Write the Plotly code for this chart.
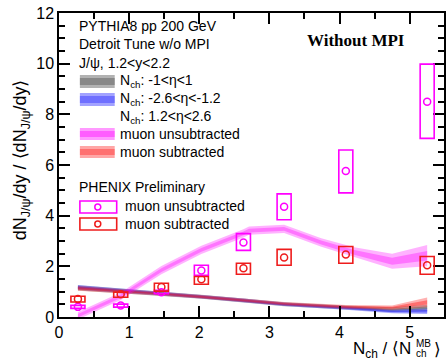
import plotly.graph_objects as go

# ---- data ----
x_data = [0.27, 0.88, 1.46, 2.03, 2.63, 3.21, 4.09, 5.25]
unsub_y = [0.40, 0.45, 0.98, 1.84, 2.94, 4.35, 5.76, 8.50]
unsub_lo = [0.34, 0.39, 0.92, 1.65, 2.63, 3.84, 4.90, 7.05]
unsub_hi = [0.46, 0.51, 1.05, 2.04, 3.29, 4.86, 6.59, 9.98]
sub_y = [0.71, 0.90, 1.18, 1.49, 1.92, 2.35, 2.47, 2.04]
sub_lo = [0.59, 0.78, 1.02, 1.29, 1.69, 2.04, 2.12, 1.69]
sub_hi = [0.82, 0.98, 1.33, 1.60, 2.12, 2.67, 2.78, 2.39]

x_mc = [0.27, 0.88, 1.46, 2.03, 2.63, 3.21, 4.09, 4.75, 5.25]
mc_mid = [1.15, 1.03, 0.92, 0.80, 0.65, 0.50, 0.37, 0.29, 0.36]
mc_mid_err = [0.10, 0.09, 0.09, 0.08, 0.08, 0.08, 0.08, 0.09, 0.12]
mc_back = [1.17, 1.05, 0.93, 0.80, 0.66, 0.50, 0.36, 0.22, 0.23]
mc_back_err = [0.09, 0.08, 0.08, 0.07, 0.07, 0.07, 0.07, 0.07, 0.11]
mc_fwd = [1.13, 1.02, 0.92, 0.80, 0.66, 0.52, 0.40, 0.37, 0.58]
mc_fwd_err = [0.09, 0.08, 0.08, 0.07, 0.07, 0.07, 0.07, 0.08, 0.19]

x_mu = [0.27, 0.88, 1.46, 2.03, 2.63, 2.71, 3.21, 3.74, 4.21, 4.75, 5.25]
mu_unsub = [0.05, 0.82, 1.85, 2.65, 3.30, 3.41, 3.48, 2.94, 2.55, 2.20, 2.42]
mu_unsub_err = [0.15, 0.15, 0.16, 0.16, 0.16, 0.16, 0.16, 0.17, 0.2, 0.3, 0.42]

MAG = "#ff00ff"
RED = "#ee1c1c"

fig = go.Figure()

def band(x, y, e, color, op_outer, op_inner):
    up = [a + b for a, b in zip(y, e)]
    lo = [a - b for a, b in zip(y, e)]
    fig.add_trace(go.Scatter(x=x + x[::-1], y=up + lo[::-1], fill="toself",
                             fillcolor=color, opacity=op_outer, line=dict(width=0),
                             mode="lines", hoverinfo="skip", showlegend=False))
    up2 = [a + b * 0.45 for a, b in zip(y, e)]
    lo2 = [a - b * 0.45 for a, b in zip(y, e)]
    fig.add_trace(go.Scatter(x=x + x[::-1], y=up2 + lo2[::-1], fill="toself",
                             fillcolor=color, opacity=op_inner, line=dict(width=0),
                             mode="lines", hoverinfo="skip", showlegend=False))

band(x_mc, mc_mid, mc_mid_err, "#555555", 0.4, 0.5)
band(x_mc, mc_back, mc_back_err, "#2828ff", 0.4, 0.5)
band(x_mc, mc_fwd, mc_fwd_err, "#ff2020", 0.35, 0.45)
band(x_mu, mu_unsub, mu_unsub_err, MAG, 0.3, 0.35)

# systematic boxes
hw = 0.1
for xs, lo, hi, col in [(x_data, unsub_lo, unsub_hi, MAG), (x_data, sub_lo, sub_hi, RED)]:
    for xi, l, h in zip(xs, lo, hi):
        fig.add_shape(type="rect", xref="x", yref="y", x0=xi - hw, x1=xi + hw, y0=l, y1=h,
                      line=dict(color=col, width=1.6), fillcolor="rgba(0,0,0,0)")

fig.add_trace(go.Scatter(x=x_data, y=unsub_y, mode="markers",
                         marker=dict(symbol="circle-open", size=7, color=MAG, line=dict(width=1.5)),
                         showlegend=False))
fig.add_trace(go.Scatter(x=x_data, y=sub_y, mode="markers",
                         marker=dict(symbol="circle-open", size=7, color=RED, line=dict(width=1.5)),
                         showlegend=False))

# ---- layout ----
L, T, W, H = 59, 13, 387, 304
def px(xp):
    return (xp - L) / W
def py(yp):
    return (T + H - yp) / H

FONT = "Liberation Sans, Arial, sans-serif"

axis_common = dict(showline=True, linecolor="black", linewidth=1.5, mirror="allticks",
                   ticks="inside", ticklen=11, tickwidth=1.5, tickcolor="black",
                   showgrid=False, zeroline=False,
                   tickfont=dict(family=FONT, size=16, color="black"),
                   minor=dict(ticks="inside", ticklen=6, tickwidth=1.5, tickcolor="black", dtick=0.5))

fig.update_layout(
    width=446, height=359, margin=dict(l=L, r=446 - L - W, t=T, b=359 - T - H),
    paper_bgcolor="white", plot_bgcolor="white", showlegend=False,
    xaxis=dict(range=[0, 5.49], dtick=1, ticklabelstandoff=0, **axis_common),
    yaxis=dict(range=[0, 12], dtick=2, **axis_common),
)

ann = []
def text(xp, yp, s, size=14, anchor="left", **kw):
    ann.append(dict(x=px(xp), y=py(yp), xref="paper", yref="paper", text=s, showarrow=False,
                    xanchor=anchor, yanchor="middle",
                    font=dict(family=kw.pop("family", FONT), size=size, color="black"), **kw))

text(77, 26, "PYTHIA8 pp 200 GeV")
text(77, 44, "Detroit Tune w/o MPI")
text(77, 63, "J/ψ, 1.2&lt;y&lt;2.2")
text(118, 81, "N<sub>ch</sub>: -1&lt;η&lt;1")
text(118, 99, "N<sub>ch</sub>: -2.6&lt;η&lt;-1.2")
text(118, 117, "N<sub>ch</sub>: 1.2&lt;η&lt;2.6")
text(118, 134, "muon unsubtracted")
text(118, 152, "muon subtracted")
text(77, 187, "PHENIX Preliminary")
text(123, 206, "muon unsubtracted")
text(123, 224, "muon subtracted")
text(306, 41, "<b>Without MPI</b>", size=17, family="Liberation Serif, Times New Roman, serif")

# x axis title, built as N_ch / <N_ch^MB>
text(415, 349.5, "N<sub>ch</sub> / ⟨N", size=17, anchor="right")
text(416, 343, "MB", size=10)
text(416, 353, "ch", size=10)
text(434, 349.5, "⟩", size=17)

ann.append(dict(x=px(21), y=py(160), xref="paper", yref="paper", showarrow=False,
                xanchor="center", yanchor="middle", textangle=-90,
                text="dN<sub>J/ψ</sub>/dy / ⟨dN<sub>J/ψ</sub>/dy⟩",
                font=dict(family=FONT, size=18, color="black")))
fig.update_layout(annotations=ann)

# legend swatches
def swatch(y0, y1, col, op):
    fig.add_shape(type="rect", xref="paper", yref="paper", x0=px(80), x1=px(115),
                  y0=py(y1), y1=py(y0), fillcolor=col, opacity=op, line=dict(width=0))
    fig.add_shape(type="rect", xref="paper", yref="paper", x0=px(80), x1=px(115),
                  y0=py(y1 - 3), y1=py(y0 + 3), fillcolor=col, opacity=op, line=dict(width=0))

swatch(75, 88, "#555555", 0.45)
swatch(93, 106, "#3030ff", 0.45)
swatch(128, 140, MAG, 0.4)
swatch(146, 158, "#ff2020", 0.4)

for yc, col in [(207, MAG), (224, RED)]:
    fig.add_shape(type="rect", xref="paper", yref="paper", x0=px(80), x1=px(117),
                  y0=py(yc + 6), y1=py(yc - 6), line=dict(color=col, width=1.6))
    fig.add_shape(type="circle", xref="paper", yref="paper", x0=px(95), x1=px(101),
                  y0=py(yc + 3), y1=py(yc - 3), line=dict(color=col, width=1.5))

fig.write_html("out.html")
